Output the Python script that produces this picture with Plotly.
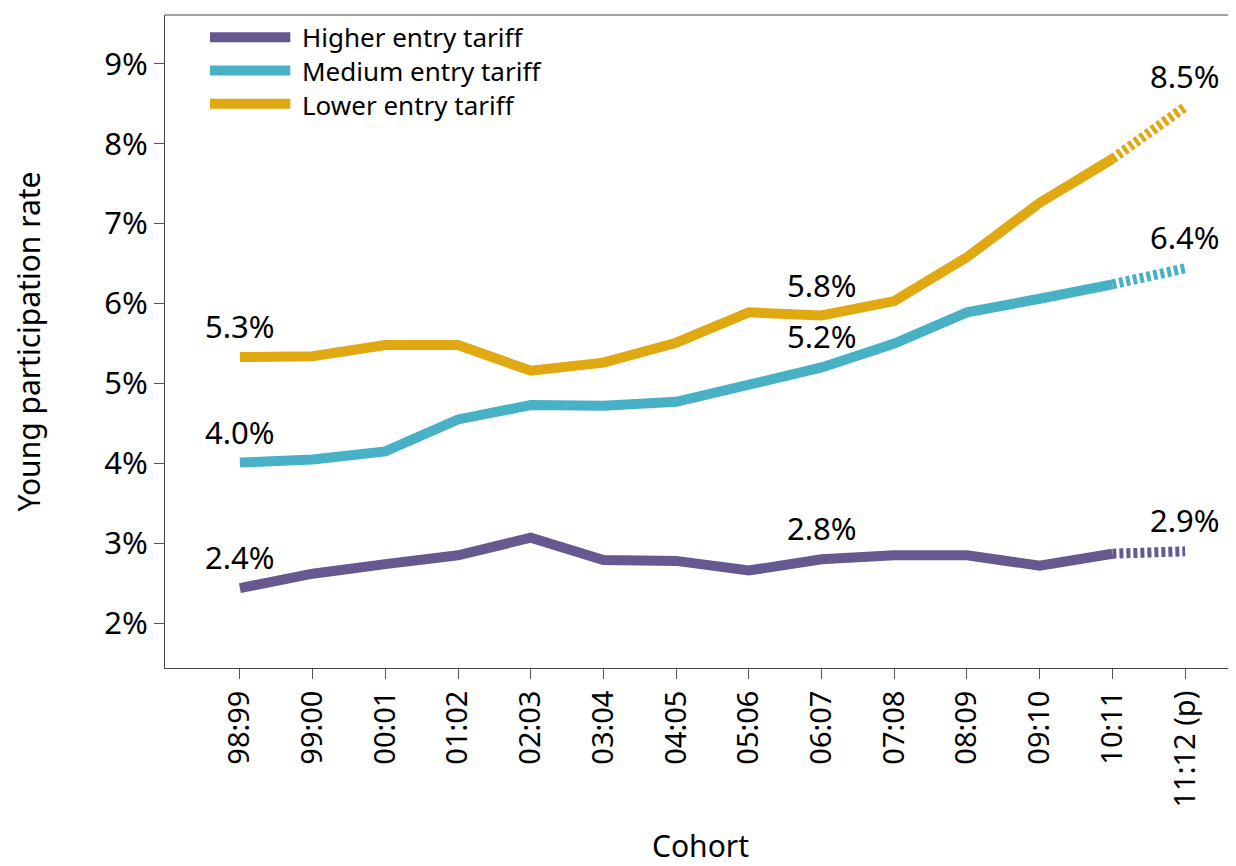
import plotly.graph_objects as go

cohorts = ["98:99", "99:00", "00:01", "01:02", "02:03", "03:04", "04:05",
           "05:06", "06:07", "07:08", "08:09", "09:10", "10:11", "11:12 (p)"]

higher = [2.44, 2.62, 2.74, 2.85, 3.07, 2.79, 2.78, 2.66, 2.80, 2.85, 2.85, 2.72, 2.87, 2.90]
medium = [4.01, 4.05, 4.15, 4.55, 4.73, 4.72, 4.77, 4.97, 5.20, 5.50, 5.89, 6.06, 6.24, 6.44]
lower = [5.33, 5.34, 5.48, 5.48, 5.16, 5.26, 5.51, 5.89, 5.85, 6.03, 6.58, 7.26, 7.81, 8.46]

y_ticks = [2, 3, 4, 5, 6, 7, 8, 9]

series_names = ["Higher entry tariff", "Medium entry tariff", "Lower entry tariff"]
colors = ["#66598f", "#48b1c6", "#e0a811"]
label_idx = [0, 8, 13]

FONT = "Noto Sans"

fig = go.Figure()

for name, vals, col in zip(series_names, [higher, medium, lower], colors):
    fig.add_trace(go.Scatter(
        x=list(range(13)), y=vals[:13], mode="lines", name=name,
        line=dict(color=col, width=10), showlegend=False,
    ))
    fig.add_trace(go.Scatter(
        x=[12, 13], y=vals[12:], mode="lines",
        line=dict(color=col, width=10, dash="4px,3px"), showlegend=False,
    ))
    for i in label_idx:
        fig.add_annotation(
            x=i, y=vals[i], text=f"{vals[i]:.1f}%", showarrow=False,
            yshift=31, font=dict(family=FONT, size=31, color="black"),
        )

# manual legend: swatches as shapes, names as one multi-line annotation
legend_y = [0.966, 0.915, 0.864]
for col, ly in zip(colors, legend_y):
    fig.add_shape(type="line", xref="paper", yref="paper",
                  x0=0.042, x1=0.117, y0=ly, y1=ly,
                  line=dict(color=col, width=10))
fig.add_annotation(xref="paper", yref="paper", x=0.126, y=legend_y[1],
                   xanchor="left", yanchor="middle", align="left",
                   text="<br>".join(series_names), showarrow=False,
                   font=dict(family=FONT, size=26, color="black"))

fig.update_layout(
    width=1228, height=858,
    plot_bgcolor="white", paper_bgcolor="white",
    margin=dict(l=157, r=0, t=7, b=198),
    font=dict(family=FONT, size=28, color="black"),
)

fig.update_xaxes(
    range=[-1.03, 13.7], automargin=False,
    tickmode="array", tickvals=list(range(14)), ticktext=cohorts,
    tickangle=-90, ticks="outside", ticklen=10, tickcolor="#555",
    showline=True, linecolor="#444", mirror=False, showgrid=False, zeroline=False,
    tickfont=dict(family=FONT, size=29),
    title=dict(text="Cohort", font=dict(family=FONT, size=30), standoff=47),
)
fig.update_yaxes(
    range=[1.44, 9.61], automargin=False,
    tickmode="array", tickvals=y_ticks, ticktext=[f"{t}%" for t in y_ticks],
    ticks="outside", ticklen=10, tickcolor="#555",
    showline=True, linecolor="#444", showgrid=False, zeroline=False,
    tickfont=dict(family=FONT, size=31),
    title=dict(text="Young participation rate", font=dict(family=FONT, size=30), standoff=57),
)

# top border line
fig.add_shape(type="line", xref="paper", yref="paper", x0=0, x1=1, y0=1, y1=1,
              line=dict(color="#444", width=1))

fig.write_html("out.html")
